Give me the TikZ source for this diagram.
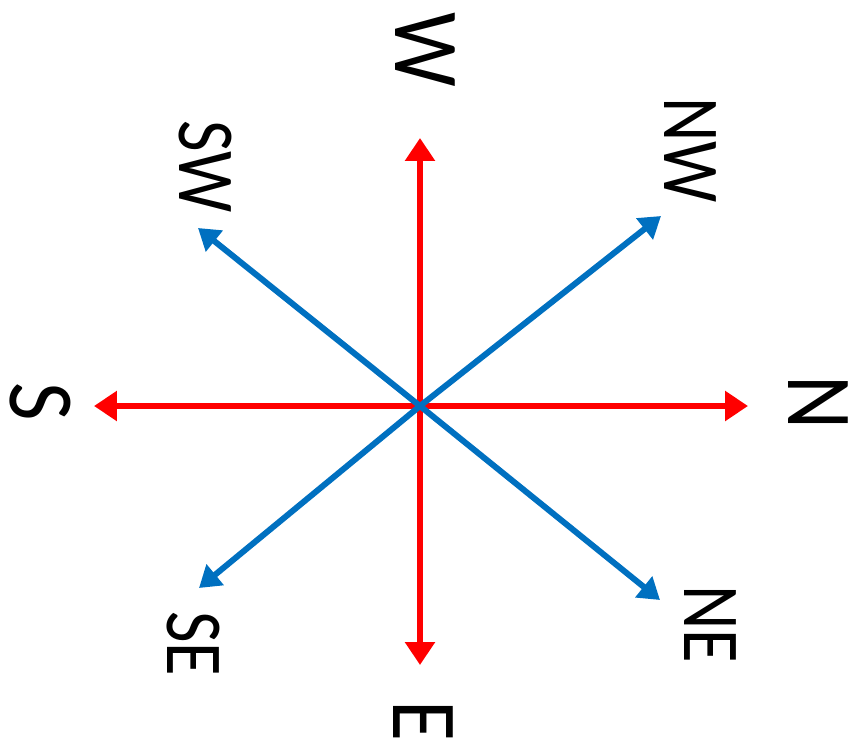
\documentclass[tikz,border=0pt]{standalone}
\usepackage{fontspec}
\setmainfont{Carlito}
\usepackage{tikz}
\usetikzlibrary{
	arrows.meta,
	positioning
}
\definecolor{compassred}{RGB}{255,0,0}
\definecolor{compassblue}{RGB}{0,112,192}

\begin{document}
\begin{tikzpicture}[
				x=0.02cm, y=-0.02cm,
				main/.style={line width=3.4pt, compassred, -{Triangle[length=0.46cm, width=0.58cm]}},
				diag/.style={line width=3.4pt, compassblue, -{Triangle[length=0.42cm, width=0.52cm]}},
				bigdir/.style={rotate=-90, xscale=0.9, inner sep=0pt, font=\fontsize{53}{60}\selectfont},
				smalldir/.style={rotate=-90, xscale=0.85, inner sep=0pt, font=\fontsize{46}{52}\selectfont}
			]
				\useasboundingbox (0,0) rectangle (867,741);
				% 中心
				\coordinate (center) at (420,406);
				% 箭头端点
				\coordinate (tip-w)  at (420,138);
				\coordinate (tip-e)  at (420,665);
				\coordinate (tip-s)  at (94,406);
				\coordinate (tip-n)  at (748,406);
				\coordinate (tip-nw) at (661,216);
				\coordinate (tip-sw) at (198,228);
				\coordinate (tip-se) at (199,588);
				\coordinate (tip-ne) at (660,600);
				% 方向标签
				\node[bigdir]   (label-w)  at (425,50)  {W};
				\node[bigdir]   (label-e)  at (423,721) {E};
				\node[bigdir]   (label-s)  at (40,402)  {S};
				\node[bigdir]   (label-n)  at (818,403) {N};
				\node[smalldir] (label-nw) at (690,150) {NW};
				\node[smalldir] (label-sw) at (205,167) {SW};
				\node[smalldir] (label-se) at (193,644) {SE};
				\node[smalldir] (label-ne) at (710,624) {NE};
				% 红色箭头
				\draw[main] (center) -- (tip-w);
				\draw[main] (center) -- (tip-e);
				\draw[main] (center) -- (tip-s);
				\draw[main] (center) -- (tip-n);
				% 蓝色箭头
				\draw[diag] (center) -- (tip-nw);
				\draw[diag] (center) -- (tip-sw);
				\draw[diag] (center) -- (tip-se);
				\draw[diag] (center) -- (tip-ne);
			\end{tikzpicture}
\end{document}
